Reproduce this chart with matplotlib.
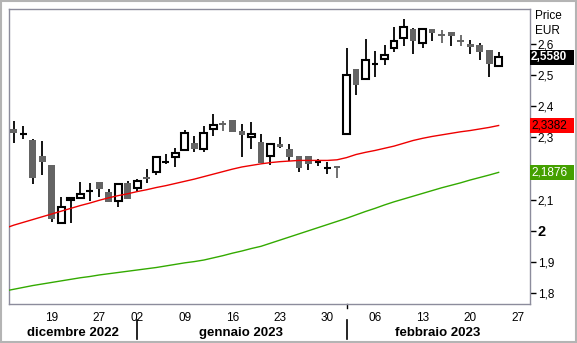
import matplotlib
matplotlib.use("Agg")
import matplotlib.pyplot as plt
from matplotlib.patches import Rectangle
import matplotlib.transforms as mtransforms

plt.rcParams['font.family'] = ['Liberation Sans', 'DejaVu Sans']

# trading sessions shown on the axis (Borsa closed 26 Dec)
sessions = ["2022-12-13", "2022-12-14", "2022-12-15", "2022-12-16",
            "2022-12-19", "2022-12-20", "2022-12-21", "2022-12-22", "2022-12-23",
            "2022-12-27", "2022-12-28", "2022-12-29", "2022-12-30",
            "2023-01-02", "2023-01-03", "2023-01-04", "2023-01-05", "2023-01-06",
            "2023-01-09", "2023-01-10", "2023-01-11", "2023-01-12", "2023-01-13",
            "2023-01-16", "2023-01-17", "2023-01-18", "2023-01-19", "2023-01-20",
            "2023-01-23", "2023-01-24", "2023-01-25", "2023-01-26", "2023-01-27",
            "2023-01-30", "2023-01-31", "2023-02-01", "2023-02-02", "2023-02-03",
            "2023-02-06", "2023-02-07", "2023-02-08", "2023-02-09", "2023-02-10",
            "2023-02-13", "2023-02-14", "2023-02-15", "2023-02-16", "2023-02-17",
            "2023-02-20", "2023-02-21", "2023-02-22", "2023-02-23", "2023-02-24",
            "2023-02-27", "2023-02-28"]

opens = [2.326, 2.311, 2.292, 2.240, 2.211, 2.025, 2.098, 2.104, 2.129, 2.157,
         2.124, 2.095, 2.152, 2.136, 2.173, 2.188, 2.221, 2.237, 2.260, 2.282,
         2.263, 2.327, 2.341, 2.356, 2.321, 2.300, 2.285, 2.240, 2.279, 2.262,
         2.240, 2.240, 2.221, 2.203, 2.204, 2.310, 2.520, 2.487, 2.537, 2.551,
         2.586, 2.618, 2.647, 2.602, 2.648, 2.628, 2.638, 2.610, 2.599, 2.597,
         2.581, 2.529]
highs = [2.353, 2.337, 2.295, 2.289, 2.212, 2.107, 2.104, 2.157, 2.152, 2.157,
         2.134, 2.154, 2.161, 2.166, 2.198, 2.236, 2.247, 2.267, 2.324, 2.304,
         2.336, 2.375, 2.354, 2.356, 2.343, 2.348, 2.312, 2.278, 2.300, 2.279,
         2.240, 2.240, 2.230, 2.221, 2.209, 2.587, 2.520, 2.616, 2.577, 2.597,
         2.654, 2.680, 2.652, 2.653, 2.648, 2.645, 2.638, 2.629, 2.612, 2.602,
         2.581, 2.574]
lows = [2.281, 2.295, 2.149, 2.180, 2.029, 2.025, 2.024, 2.104, 2.096, 2.109,
        2.092, 2.077, 2.103, 2.128, 2.154, 2.178, 2.213, 2.206, 2.260, 2.254,
        2.254, 2.305, 2.321, 2.318, 2.238, 2.262, 2.219, 2.210, 2.266, 2.224,
        2.188, 2.195, 2.208, 2.183, 2.171, 2.310, 2.437, 2.487, 2.495, 2.531,
        2.575, 2.595, 2.567, 2.586, 2.610, 2.602, 2.595, 2.595, 2.567, 2.549,
        2.495, 2.529]
closes = [2.313, 2.311, 2.170, 2.222, 2.037, 2.077, 2.104, 2.119, 2.129, 2.133,
          2.092, 2.149, 2.103, 2.160, 2.165, 2.236, 2.221, 2.249, 2.313, 2.264,
          2.313, 2.340, 2.339, 2.318, 2.309, 2.310, 2.219, 2.278, 2.268, 2.238,
          2.203, 2.214, 2.221, 2.203, 2.202, 2.500, 2.469, 2.548, 2.537, 2.564,
          2.609, 2.654, 2.611, 2.647, 2.634, 2.626, 2.627, 2.608, 2.592, 2.575,
          2.535, 2.558]

# moving averages, first value is the session before 13 Dec
ma_red = [2.007, 2.018, 2.027, 2.036, 2.045, 2.054, 2.063, 2.072, 2.081, 2.089,
          2.098, 2.106, 2.113, 2.119, 2.126, 2.132, 2.139, 2.145, 2.152, 2.159,
          2.166, 2.174, 2.182, 2.190, 2.198, 2.205, 2.210, 2.215, 2.219, 2.222,
          2.224, 2.226, 2.226, 2.226, 2.226, 2.228, 2.235, 2.245, 2.252, 2.258,
          2.265, 2.272, 2.281, 2.290, 2.297, 2.303, 2.308, 2.313, 2.318, 2.322,
          2.327, 2.332, 2.3382]
ma_green = [1.806, 1.812, 1.818, 1.824, 1.829, 1.834, 1.839, 1.844, 1.849, 1.853,
            1.858, 1.862, 1.866, 1.870, 1.874, 1.878, 1.882, 1.887, 1.892, 1.897,
            1.901, 1.906, 1.913, 1.920, 1.928, 1.935, 1.943, 1.950, 1.960, 1.970,
            1.980, 1.990, 2.000, 2.010, 2.020, 2.030, 2.040, 2.051, 2.062, 2.072,
            2.083, 2.093, 2.102, 2.111, 2.120, 2.129, 2.138, 2.146, 2.154, 2.163,
            2.171, 2.179, 2.1876]

tick_dates = ["2022-12-19", "2022-12-27", "2023-01-02", "2023-01-09", "2023-01-16",
              "2023-01-23", "2023-01-30", "2023-02-06", "2023-02-13", "2023-02-20",
              "2023-02-27"]
months = ["dicembre 2022", "gennaio 2023", "febbraio 2023"]
month_starts = ["2023-01-02", "2023-02-01"]
# 2,2 sits under the green value box in the original
y_ticks = [1.8, 1.9, 2.0, 2.1, 2.3, 2.4, 2.5, 2.6]

GRAY = "#646464"

fig = plt.figure(figsize=(5.77, 3.43), dpi=100)
ax = fig.add_axes([9 / 577, 39 / 343, 521 / 577, 295 / 343])

# candles
w = 0.72
for i in range(len(closes)):
    o, h, l, c = opens[i], highs[i], lows[i], closes[i]
    down = c < o
    wick_col = GRAY if (down and o - c < 0.003) else "black"
    ax.plot([i, i], [l, h], color=wick_col, lw=1.3, zorder=2, solid_capstyle="butt")
    bottom = min(o, c)
    height = abs(c - o)
    if down:
        height = max(height, 0.006)
        ax.add_patch(Rectangle((i - w / 2, bottom), w, height, facecolor=GRAY,
                               edgecolor="none", zorder=3))
    else:
        ax.add_patch(Rectangle((i - w / 2, bottom), w, height, facecolor="white",
                               edgecolor="black", lw=1.5, zorder=3))

ma_x = list(range(-1, len(ma_red) - 1))
ax.plot(ma_x, ma_red, color="#ee0000", lw=1.0, zorder=4)
ax.plot(ma_x, ma_green, color="#33aa00", lw=1.0, zorder=4)

ax.set_xlim(-0.5, 54.3)
ax.set_ylim(1.7647, 2.7125)

for s in ax.spines.values():
    s.set_color("#8c8c9c")
    s.set_linewidth(1.0)

# right price axis
ax.yaxis.tick_right()
ax.set_yticks(y_ticks)
ax.set_yticklabels([("%g" % v).replace(".", ",") for v in y_ticks])
ax.tick_params(axis="y", length=4, width=1, color="black", labelsize=8.5, pad=1.5)
for lab, v in zip(ax.get_yticklabels(), y_ticks):
    if v == 2.0:
        lab.set_fontweight("bold")
        lab.set_fontsize(10.5)

# bottom axis
pos = [sessions.index(d) for d in tick_dates]
ax.set_xticks(pos)
ax.set_xticklabels([d[-2:] for d in tick_dates])
ax.tick_params(axis="x", length=0, labelsize=8.5, pad=6)

bt = mtransforms.blended_transform_factory(ax.transData, ax.transAxes)
bounds = [-0.5] + [sessions.index(d) for d in month_starts] + [54.3]
label_x = [6.2, 23.9, 44.6]
for name, xm in zip(months, label_x):
    ax.text(xm, -0.098, name, transform=bt, ha="center", va="center",
            fontsize=9.5, fontweight="bold")
for b in bounds[1:-1]:
    ax.plot([b, b], [-0.054, -0.118], transform=bt, color="black", lw=1.2, clip_on=False)
ax.plot([bounds[2], bounds[2]], [0, -0.014], transform=bt, color="black", lw=1, clip_on=False)

# last value boxes
rt = mtransforms.blended_transform_factory(ax.transAxes, ax.transData)
bw = 44 / 521
bh = 15 / 311.25
boxes = [(closes[-1], "black", "white", "bold"),
         (ma_red[-1], "#ff0000", "black", "normal"),
         (ma_green[-1], "#44a000", "white", "normal")]
for val, fc, tc, fw in boxes:
    ax.add_patch(Rectangle((1.0, val - bh / 2), bw, bh, transform=rt, facecolor=fc,
                           edgecolor="none", clip_on=False, zorder=10))
    ax.text(1.0 + 1 / 521, val, ("%.4f" % val).replace(".", ","), transform=rt,
            ha="left", va="center", color=tc, fontsize=8.5, fontweight=fw,
            zorder=11, clip_on=False)

fig.text(535 / 577, 1 - 16 / 343, "Price", ha="left", va="center", fontsize=8.5)
fig.text(535 / 577, 1 - 31 / 343, "EUR", ha="left", va="center", fontsize=8.5)

# outer frame
fig.patches.append(Rectangle((0.001, 0.003), 0.997, 0.994, transform=fig.transFigure,
                             facecolor="none", edgecolor="#b4b4b4", lw=1.5))

fig.savefig("out.png", dpi=100)
